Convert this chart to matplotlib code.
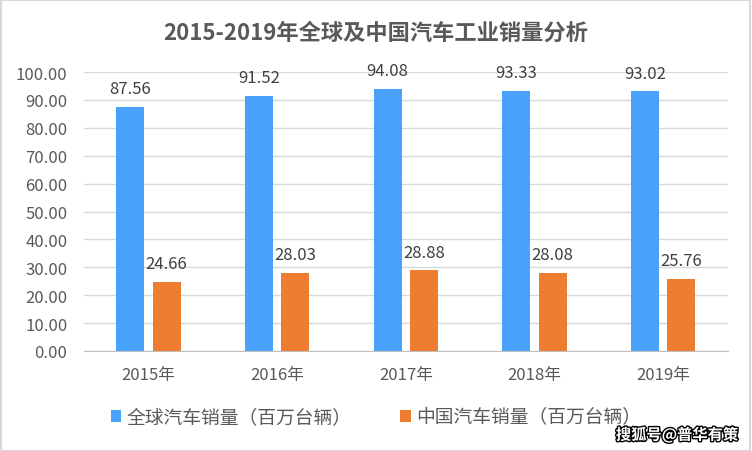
import matplotlib
matplotlib.use("Agg")
import matplotlib.pyplot as plt
import matplotlib.patheffects as pe
from matplotlib.patches import Rectangle
import numpy as np

plt.rcParams['font.family'] = ['Noto Sans CJK SC', 'DejaVu Sans']

years = ["2015年", "2016年", "2017年", "2018年", "2019年"]
global_sales = [87.56, 91.52, 94.08, 93.33, 93.02]
china_sales = [24.66, 28.03, 28.88, 28.08, 25.76]
series_names = ["全球汽车销量（百万台辆）", "中国汽车销量（百万台辆）"]
title = "2015-2019年全球及中国汽车工业销量分析"
watermark = "搜狐号@普华有策"

blue = "#48A2FC"
orange = "#ED7D31"
text_color = "#595959"
grid_color = "#D9D9D9"

fig = plt.figure(figsize=(7.52, 4.52), dpi=100)
ax = fig.add_axes([84/752, 1-352/452, (727.5-84)/752, (352-73)/452])

x = np.arange(len(years))
w = 0.2175
off = 0.1415
b1 = ax.bar(x - off, global_sales, w, color=blue, label=series_names[0], zorder=3)
b2 = ax.bar(x + off, china_sales, w, color=orange, label=series_names[1], zorder=3)

for bars in (b1, b2):
    for r in bars:
        h = r.get_height()
        ax.annotate(f"{h:.2f}", (r.get_x() + r.get_width()/2, h), xytext=(0, 7),
                    textcoords="offset points", ha="center", va="bottom",
                    fontsize=12, color="#404040")

ax.set_xlim(-0.5, len(years) - 0.5)
ax.set_ylim(0, 100)
ax.set_yticks(np.arange(0, 101, 10))
ax.set_yticklabels([f"{v:.2f}" for v in np.arange(0, 101, 10)])
ax.set_xticks(x)
ax.set_xticklabels(years)
ax.tick_params(axis="both", length=0, labelsize=12, labelcolor=text_color)
ax.tick_params(axis="y", pad=12)
ax.tick_params(axis="x", pad=11)
ax.yaxis.grid(True, color=grid_color, linewidth=1, zorder=0)
for s in ("top", "right", "left"):
    ax.spines[s].set_visible(False)
ax.spines["bottom"].set_color("#BFBFBF")
ax.spines["bottom"].set_zorder(4)

fig.text(376/752, 1-33/452, title, ha="center", va="center", fontsize=16,
         fontweight="bold", color=text_color)

fig.legend(handles=[b1, b2], labels=series_names, loc="center",
           bbox_to_anchor=(376/752, 1-418/452), ncol=2, frameon=False,
           fontsize=13.5, labelcolor=text_color, handlelength=0.55,
           handleheight=0.55, handletextpad=0.3, columnspacing=2.6)

fig.text(738/752, 1-436/452, watermark, ha="right", va="center", fontsize=11,
         fontweight="bold", color="white",
         path_effects=[pe.withStroke(linewidth=2, foreground="black")])

fig.patches.append(Rectangle((0.001, 0.001), 0.997, 0.997, transform=fig.transFigure,
                             fill=False, edgecolor="#D9D9D9", linewidth=1.5))

fig.savefig("out.png", dpi=100)
